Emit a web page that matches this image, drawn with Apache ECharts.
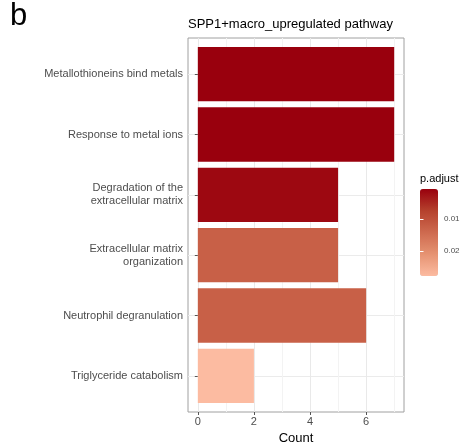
<!DOCTYPE html>
<html>
<head>
<meta charset="utf-8">
<script src="https://cdn.jsdelivr.net/npm/echarts@6/dist/echarts.min.js"></script>
<style>
  html, body { margin: 0; padding: 0; background: #fff; }
  #chart { width: 460px; height: 443px; }
</style>
</head>
<body>
<div id="chart"></div>
<script>
// Enriched pathways, top to bottom
const categories = [
  'Metallothioneins bind metals',
  'Response to metal ions',
  'Degradation of the\nextracellular matrix',
  'Extracellular matrix\norganization',
  'Neutrophil degranulation',
  'Triglyceride catabolism'
];
const counts = [7, 7, 5, 5, 6, 2];
const pAdjust = [0.00044, 0.00044, 0.0013, 0.0125, 0.0125, 0.0279];

const countTicks = [0, 2, 4, 6];
const countMinorTicks = [1, 3, 5, 7];
const pTicks = [0.01, 0.02];

const FONT = '"Liberation Sans", Arial, Helvetica, sans-serif';
const positions = categories.map((_, i) => i + 1);
const pMin = Math.min(...pAdjust);
const pMax = Math.max(...pAdjust);

const chart = echarts.init(document.getElementById('chart'), null, { renderer: 'canvas' });

function renderBar(params, api) {
  const y = api.value(1);
  const start = api.coord([0, y]);
  const end = api.coord([api.value(0), y]);
  const h = api.size([0, 0.9])[1];
  return {
    type: 'rect',
    shape: { x: start[0], y: start[1] - h / 2, width: end[0] - start[0], height: h },
    style: { fill: api.visual('color') }
  };
}

const colorbarAxis = (position, showLabel) => ({
  type: 'value',
  gridIndex: 1,
  position: position,
  min: pMin,
  max: pMax,
  inverse: true,
  z: 10,
  axisLine: { show: false },
  axisTick: {
    show: true, inside: true, length: 3.5, customValues: pTicks,
    lineStyle: { color: '#ffffff', width: 1 }
  },
  axisLabel: {
    show: showLabel, customValues: pTicks, margin: 6,
    fontFamily: FONT, fontSize: 8, color: '#4d4d4d'
  },
  splitLine: { show: false }
});

chart.setOption({
  backgroundColor: '#ffffff',
  animation: false,
  title: [
    {
      text: 'b', left: 10, top: 1, padding: 0,
      textStyle: { fontFamily: FONT, fontSize: 31, fontWeight: 'normal', color: '#000' }
    },
    {
      text: 'SPP1+macro_upregulated pathway', left: 188, top: 18, padding: 0,
      textStyle: { fontFamily: FONT, fontSize: 13, fontWeight: 'normal', color: '#000' }
    }
  ],
  graphic: [
    {
      type: 'text', left: 420, top: 173,
      style: { text: 'p.adjust', font: '11px ' + FONT, fill: '#000' }
    }
  ],
  grid: [
    {
      left: 188, right: 56, top: 38, bottom: 31,
      outerBoundsMode: 'none', containLabel: false,
      show: true, borderColor: '#a0a0a0', borderWidth: 1, backgroundColor: '#fff'
    },
    { left: 420, top: 189, width: 18, height: 87, outerBoundsMode: 'none', containLabel: false }
  ],
  xAxis: [
    {
      type: 'value', gridIndex: 0, min: -0.35, max: 7.35,
      name: 'Count', nameLocation: 'middle', nameGap: 15,
      nameTextStyle: { fontFamily: FONT, fontSize: 13, color: '#000' },
      axisLine: { show: false },
      axisTick: { show: true, length: 3, customValues: countTicks, lineStyle: { color: '#555' } },
      axisLabel: { customValues: countTicks, margin: 4, fontFamily: FONT, fontSize: 11, color: '#4d4d4d' },
      splitLine: { show: true, lineStyle: { color: '#e9e9e9', width: 1 } }
    },
    {
      type: 'value', gridIndex: 0, min: -0.35, max: 7.35, position: 'top',
      axisLine: { show: false },
      axisTick: { show: false, customValues: countMinorTicks },
      axisLabel: { show: false, customValues: countMinorTicks },
      splitLine: { show: true, lineStyle: { color: '#f3f3f3', width: 1 } }
    },
    { type: 'value', gridIndex: 1, show: false, min: 0, max: 1 }
  ],
  yAxis: [
    {
      type: 'value', gridIndex: 0, min: 0.4, max: 6.6, inverse: true,
      axisLine: { show: false },
      axisTick: { show: true, length: 3, customValues: positions, lineStyle: { color: '#555' } },
      axisLabel: {
        customValues: positions, margin: 5,
        fontFamily: FONT, fontSize: 11, lineHeight: 13, color: '#4d4d4d',
        formatter: (v) => categories[Math.round(v) - 1]
      },
      splitLine: { show: true, lineStyle: { color: '#ebebeb', width: 1 } }
    },
    colorbarAxis('right', true),
    colorbarAxis('left', false)
  ],
  visualMap: {
    type: 'continuous',
    seriesIndex: 0,
    dimension: 2,
    min: pMin,
    max: pMax,
    inverse: true,
    orient: 'vertical',
    left: 420,
    top: 189,
    itemWidth: 18,
    itemHeight: 87,
    padding: 0,
    calculable: false,
    hoverLink: false,
    inRange: { color: ['#99000D', '#B5412D', '#CE6A4F', '#E69372', '#FCBBA1'] }
  },
  series: [
    {
      type: 'custom',
      xAxisIndex: 0,
      yAxisIndex: 0,
      renderItem: renderBar,
      encode: { x: 0, y: 1 },
      data: counts.map((c, i) => [c, positions[i], pAdjust[i]]),
      z: 3
    }
  ]
});
</script>
</body>
</html>
